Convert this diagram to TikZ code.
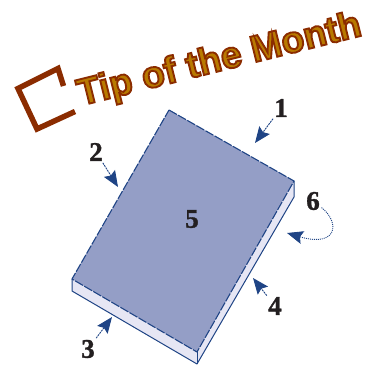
\documentclass[tikz,border=0pt]{standalone}
\usepackage{fontspec}
\setmainfont{Liberation Serif}[BoldFeatures={FakeBold=1.2}]
\newfontfamily\titlefont{Liberation Sans Bold}[FakeBold=5]
\usetikzlibrary{arrows.meta}
\definecolor{rust}{HTML}{8B2C00}
\definecolor{ochre}{HTML}{B87A00}
\definecolor{facecol}{HTML}{949EC6}
\definecolor{sidecol}{HTML}{E6E6F4}
\definecolor{edgecol}{HTML}{1F4485}
\definecolor{numcol}{HTML}{231F20}
\tikzset{
  num/.style={font=\bfseries\fontsize{27}{27}\selectfont, text=numcol, inner sep=0pt},
  pointer/.style={draw=edgecol, line width=0.9pt, dash pattern=on 2pt off 0.8pt, shorten <=2pt, -{Stealth[length=16pt,width=13pt,inset=2.5pt,fill=edgecol]}},
  curvedpointer/.style={pointer, dash pattern=on 1pt off 1pt},
  bodyedge/.style={draw=edgecol, line width=1pt, line join=round},
  topedge/.style={draw=edgecol, line width=1.1pt, dash pattern=on 9pt off 1.5pt},
}
\begin{document}
\begin{tikzpicture}[x=1pt,y=-1pt]
\useasboundingbox (0,0) rectangle (377,367);
% title
\draw[rust, line width=5.5pt, line cap=butt, line join=miter] (63.5,86) -- (58,68.5) -- (18,88.5) -- (37,129) -- (75,111.5);
\node[anchor=base, rotate=14, inner sep=0pt, font=\titlefont\fontsize{37.5}{37.5}\selectfont] (title) at (222,70.5)
  {\textcolor{ochre}{\special{pdf:code 0.545 0.172 0 RG}Tip of the Month}};
% slab
\coordinate (T) at (169,110);
\coordinate (R) at (294,181);
\coordinate (B) at (197,352);
\coordinate (L) at (72,279);
\coordinate (Rb) at (294,197);
\coordinate (Bb) at (197,364);
\coordinate (Lb) at (72,291);
\fill[sidecol] (L) -- (Lb) -- (Bb) -- (Rb) -- (R) -- (B) -- cycle;
\draw[bodyedge] (L) -- (Lb) -- (Bb) -- (Rb) -- (R);
\draw[bodyedge] (B) -- (Bb);
\fill[facecol] (T) -- (R) -- (B) -- (L) -- cycle;
\draw[topedge] (T) -- (R) -- (B) -- (L) -- cycle;
% labels
\node[num] (n1) at (281,108) {1};
\node[num] (n2) at (96,152) {2};
\node[num] (n3) at (88,349) {3};
\node[num] (n4) at (275,306) {4};
\node[num] (n5) at (192,219) {5};
\node[num] (n6) at (313,201) {6};
% arrow tips
\coordinate (a1) at (255,143);
\coordinate (a2) at (118,187);
\coordinate (a3) at (112,317);
\coordinate (a4) at (253,278);
\coordinate (a6) at (287,233);
\draw[pointer] (n1) -- (a1);
\draw[pointer] (n2) -- (a2);
\draw[pointer] (n3) -- (a3);
\draw[pointer] (n4) -- (a4);
\draw[curvedpointer] (n6) .. controls (340,222) and (338,248) .. (a6);
\end{tikzpicture}
\end{document}
